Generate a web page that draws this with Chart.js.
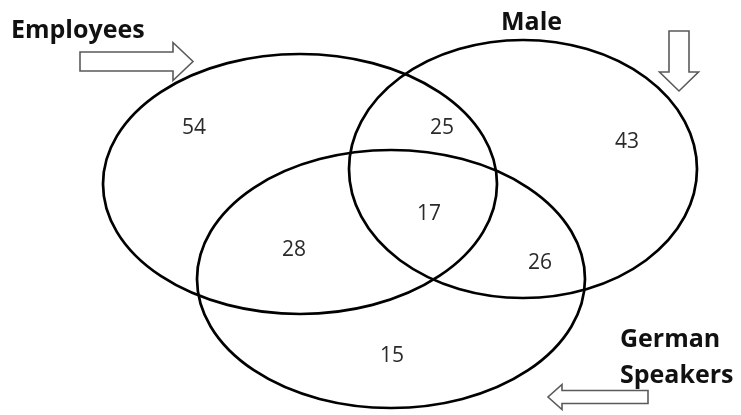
<!DOCTYPE html>
<html>
<head>
<meta charset="utf-8">
<script src="https://cdn.jsdelivr.net/npm/chart.js@4"></script>
<style>
  html, body { margin: 0; padding: 0; background: #fff; }
  canvas { display: block; }
</style>
</head>
<body>
<canvas id="venn" width="741" height="415"></canvas>
<script>
// sets (ellipses) in chart units
const setNames = ['Employees', 'Male', 'German Speakers'];
const setCx = [300, 523, 391];
const setCy = [184, 169, 279];
const setRx = [197, 174, 194];
const setRy = [130, 129, 129];

// region counts
const regionNames = ['Employees only', 'Employees & Male', 'Male only', 'All three', 'Employees & German', 'Male & German', 'German only'];
const regionCounts = [54, 25, 43, 17, 28, 26, 15];
const regionX = [194, 442, 627, 429, 294, 540, 392];
const regionY = [128, 128, 142, 214, 250, 263, 356];

const labelFont = 'bold 25px "Open Sans"';
const countFont = '21px "Open Sans"';

const setLabels = [
    { lines: ['Employees'], x: 11, y: 38 },
    { lines: ['Male'], x: 501, y: 30 },
    { lines: ['German', 'Speakers'], x: 620, y: 347, lineHeight: 36 }
];

// block arrows: tail point, tip point, shaft half width, head half width, head length
const arrows = [
    { from: [80, 61.5], to: [193, 61.5], shaft: 9.5, head: 19, headLen: 20 },
    { from: [679, 31], to: [679, 91], shaft: 10, head: 19.5, headLen: 19 },
    { from: [648, 397], to: [548, 397], shaft: 6.5, head: 12.5, headLen: 14 }
];

function drawArrow(ctx, x, y, a) {
    const x0 = x.getPixelForValue(a.from[0]), y0 = y.getPixelForValue(a.from[1]);
    const x1 = x.getPixelForValue(a.to[0]), y1 = y.getPixelForValue(a.to[1]);
    const len = Math.hypot(x1 - x0, y1 - y0);
    const ang = Math.atan2(y1 - y0, x1 - x0);
    const s = a.shaft, h = a.head, b = len - a.headLen;
    ctx.save();
    ctx.translate(x0, y0);
    ctx.rotate(ang);
    ctx.beginPath();
    ctx.moveTo(0, -s);
    ctx.lineTo(b, -s);
    ctx.lineTo(b, -h);
    ctx.lineTo(len, 0);
    ctx.lineTo(b, h);
    ctx.lineTo(b, s);
    ctx.lineTo(0, s);
    ctx.closePath();
    ctx.fillStyle = '#fff';
    ctx.fill();
    ctx.lineWidth = 1.6;
    ctx.strokeStyle = '#5a5a5a';
    ctx.lineJoin = 'miter';
    ctx.stroke();
    ctx.restore();
}

const vennPlugin = {
    id: 'venn',
    afterDatasetsDraw(chart) {
        const { ctx, scales: { x, y } } = chart;
        ctx.save();

        // ellipses
        ctx.lineWidth = 2.7;
        ctx.strokeStyle = '#000';
        setCx.forEach((cx, i) => {
            const px = x.getPixelForValue(cx);
            const py = y.getPixelForValue(setCy[i]);
            const rx = Math.abs(x.getPixelForValue(cx + setRx[i]) - px);
            const ry = Math.abs(y.getPixelForValue(setCy[i] + setRy[i]) - py);
            ctx.beginPath();
            ctx.ellipse(px, py, rx, ry, 0, 0, Math.PI * 2);
            ctx.stroke();
        });

        // counts
        const meta = chart.getDatasetMeta(0);
        ctx.font = countFont;
        ctx.fillStyle = '#2a2a2a';
        ctx.textAlign = 'center';
        ctx.textBaseline = 'middle';
        meta.data.forEach((pt, i) => {
            ctx.fillText(String(regionCounts[i]), pt.x, pt.y);
        });

        // set names
        ctx.font = labelFont;
        ctx.fillStyle = '#111';
        ctx.textAlign = 'left';
        ctx.textBaseline = 'alphabetic';
        setLabels.forEach(l => {
            l.lines.forEach((t, j) => {
                ctx.fillText(t, x.getPixelForValue(l.x), y.getPixelForValue(l.y + j * (l.lineHeight || 0)));
            });
        });

        arrows.forEach(a => drawArrow(ctx, x, y, a));
        ctx.restore();
    }
};

new Chart(document.getElementById('venn'), {
    type: 'scatter',
    data: {
        labels: regionNames,
        datasets: [{
            label: 'Count',
            data: regionX.map((v, i) => ({ x: v, y: regionY[i] })),
            pointRadius: 0,
            pointHoverRadius: 0
        }]
    },
    options: {
        responsive: false,
        animation: false,
        layout: { padding: 0 },
        scales: {
            x: { type: 'linear', min: 0, max: 741, display: false },
            y: { type: 'linear', min: 0, max: 415, reverse: true, display: false }
        },
        plugins: {
            legend: { display: false },
            tooltip: { enabled: false }
        }
    },
    plugins: [vennPlugin]
});
</script>
</body>
</html>
